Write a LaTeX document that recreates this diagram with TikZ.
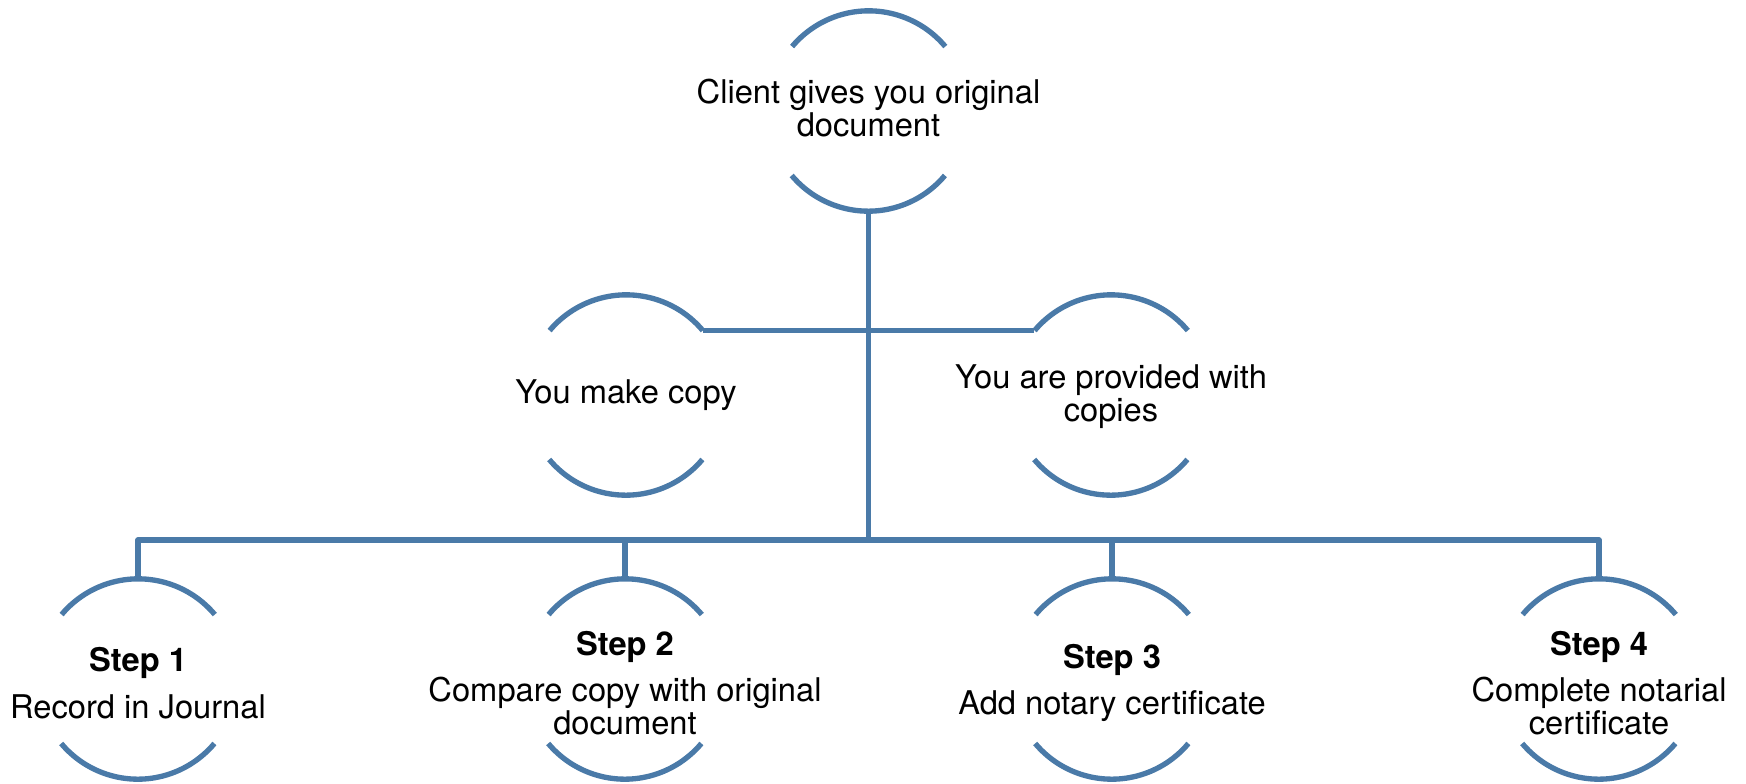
\documentclass[tikz,border=0pt]{standalone}
\usepackage{fontspec}
\setmainfont{TeX Gyre Heros}
\definecolor{flowblue}{RGB}{74,122,168}
% two open arcs (top and bottom) around a ring node
\newcommand\ringarcs[1]{%
  \draw[rim] (#1.40) arc[start angle=40,end angle=140,radius=75pt];
  \draw[rim] (#1.220) arc[start angle=220,end angle=320,radius=75pt];}
\begin{document}
\begin{tikzpicture}[x=0.75pt,y=-0.75pt,
  ring/.style={circle,minimum size=150pt,inner sep=0pt},
  rim/.style={draw=flowblue,line width=4pt},
  link/.style={draw=flowblue,line width=4pt,line join=round},
  txt/.style={font=\fontsize{24.5}{24.5}\selectfont,align=center,text=black,inner sep=0pt}]
\useasboundingbox (0,0) rectangle (1746,783);

% rings
\node[ring] (top) at (868.5,111) {};
\node[ring] (ml) at (626,395) {};
\node[ring] (mr) at (1111,395) {};
\node[ring] (s1) at (138,679) {};
\node[ring] (s2) at (625,679) {};
\node[ring] (s3) at (1112,679) {};
\node[ring] (s4) at (1599,679) {};
\foreach \n in {top,ml,mr,s1,s2,s3,s4} {\ringarcs{\n}}

% texts
\node[txt] (ttop) at ([yshift=2pt]top.center) {Client gives you original\\document};
\node[txt] (tml) at (ml.center) {You make copy};
\node[txt] (tmr) at ([yshift=-1pt]mr.center) {You are provided with\\copies};
\node[txt] (ts1) at ([yshift=-3pt]s1.center) {\textbf{Step 1}\\[10.5pt]Record in Journal};
\node[txt] (ts2) at ([yshift=-3pt]s2.center) {\textbf{Step 2}\\[10.5pt]Compare copy with original\\document};
\node[txt] (ts3) at ([yshift=-3pt]s3.center) {\textbf{Step 3}\\[10.5pt]Add notary certificate};
\node[txt] (ts4) at ([yshift=-3pt]s4.center) {\textbf{Step 4}\\[10.5pt]Complete notarial\\certificate};

% connectors
\coordinate (hub) at (868.5,540);
\draw[link] (top.south) -- (hub);
\draw[link] (ml.40) -- (mr.140);
\draw[link] (s1.north) -- (s1.north |- hub) -- (s4.north |- hub) -- (s4.north);
\draw[link] (s2.north) -- (s2.north |- hub);
\draw[link] (s3.north) -- (s3.north |- hub);
\end{tikzpicture}
\end{document}
